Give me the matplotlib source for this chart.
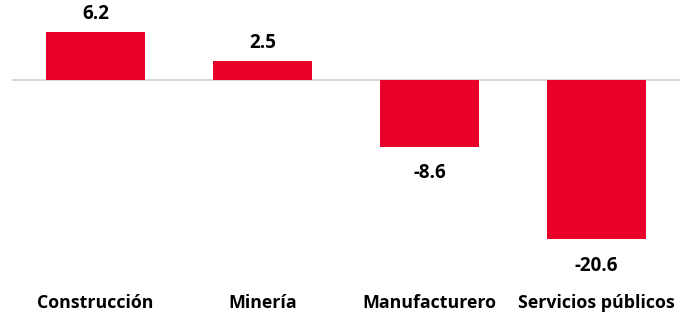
import matplotlib
matplotlib.use("Agg")
import matplotlib.pyplot as plt
from matplotlib.transforms import blended_transform_factory

categories = ["Construcción", "Minería", "Manufacturero", "Servicios públicos"]
values = [6.2, 2.5, -8.6, -20.6]
value_labels = ["6.2", "2.5", "-8.6", "-20.6"]

plt.rcParams['font.family'] = ['Open Sans', 'DejaVu Sans']

W, H = 691, 316
fig = plt.figure(figsize=(W / 100, H / 100), dpi=100)
ax = fig.add_axes([12 / W, 56 / H, (680 - 12) / W, 260 / H])

x = list(range(len(categories)))
ax.bar(x, values, width=0.59, color="#E8002A", zorder=2)
ax.axhline(0, color="#D9D9D9", linewidth=1.5, zorder=1)
ax.set_xlim(-0.5, 3.5)
ax.set_ylim(-23.26, 10.34)
ax.axis("off")

for xi, v, lab in zip(x, values, value_labels):
    off = 13 if v >= 0 else -19
    ax.annotate(lab, (xi, v), xytext=(0, off), textcoords="offset points",
                ha="center", va="center", fontsize=13.5, fontweight="bold", color="#000000")

trans = blended_transform_factory(ax.transData, ax.transAxes)
for xi, c in zip(x, categories):
    ax.text(xi, -0.165, c, transform=trans, ha="center", va="center",
            fontsize=12.8, fontweight="bold", color="#000000")

fig.savefig("out.png", dpi=100)
